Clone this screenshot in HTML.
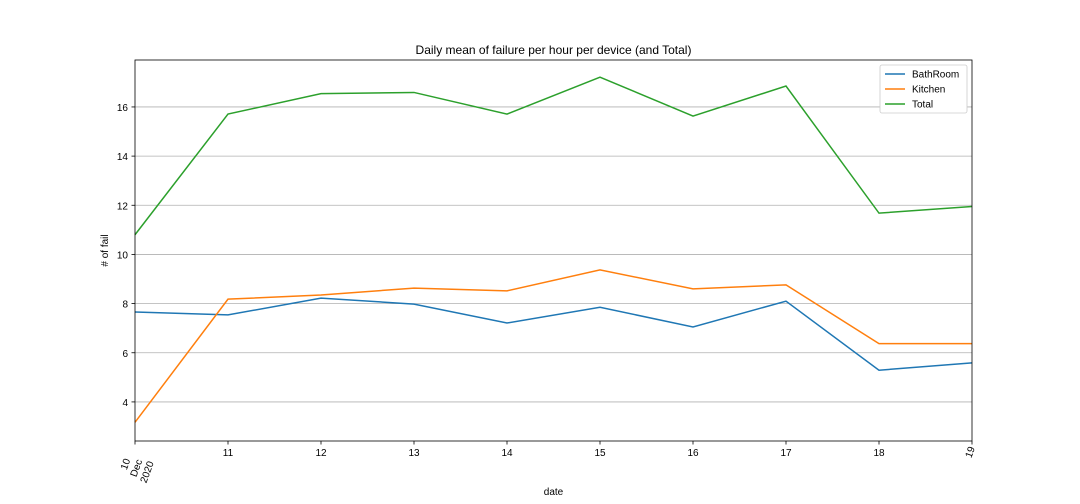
<!DOCTYPE html>
<html><head><meta charset="utf-8"><style>
html,body{margin:0;padding:0;background:#fff;}
svg{display:block;font-family:"Liberation Sans","DejaVu Sans",sans-serif;}
</style></head><body>
<svg id="chart" width="1080" height="504"></svg>
<script>
const days = [10,11,12,13,14,15,16,17,18,19];
const bathroom = [7.66,7.54,8.22,7.98,7.21,7.85,7.05,8.10,5.29,5.59];
const kitchen = [3.17,8.18,8.35,8.63,8.52,9.37,8.60,8.76,6.37,6.37];
const total = [10.80,15.71,16.54,16.59,15.71,17.21,15.63,16.85,11.68,11.95];
const yTicks = [4,6,8,10,12,14,16];
const xTickLabels = ["10\nDec\n2020","11","12","13","14","15","16","17","18","19"];
const rotatedTicks = [true,false,false,false,false,false,false,false,false,true];

const NS="http://www.w3.org/2000/svg";
const svg=document.getElementById('chart');
const L=135,R=972,T=60,B=441;
const yMin=2.41,yMax=17.91;
const xs=d=>L+(d-days[0])/(days[days.length-1]-days[0])*(R-L);
const ys=v=>B-(v-yMin)/(yMax-yMin)*(B-T);
function mk(tag,attrs,parent){const e=document.createElementNS(NS,tag);for(const k in attrs)e.setAttribute(k,attrs[k]);(parent||svg).appendChild(e);return e;}

const grid=mk('g',{});


yTicks.forEach(v=>{
  const y=ys(v);
  mk('line',{x1:L,x2:R,y1:y,y2:y,stroke:'#b0b0b0','stroke-width':0.8},grid);
  mk('line',{x1:L-3.5,x2:L,y1:y,y2:y,stroke:'#000','stroke-width':0.8},grid);
  const t=mk('text',{x:L-7,y:y+4,'text-anchor':'end','font-size':10,fill:'#000'},grid);
  t.textContent=v;
  
  
});

const xg=mk('g',{});


days.forEach((d,i)=>{
  const x=xs(d);
  mk('line',{x1:x,x2:x,y1:B,y2:B+3.5,stroke:'#000','stroke-width':0.8},xg);
  const lines=xTickLabels[i].split("\n");
  let t;
  if(!rotatedTicks[i]){
    t=mk('text',{x:x,y:B+15,'font-size':10,fill:'#000','text-anchor':'middle'},xg);
    t.textContent=lines[0];
  } else if(lines.length>1){
    t=mk('text',{'font-size':10,fill:'#000','text-anchor':'middle',transform:`translate(${x+1},${B+27}) rotate(-70)`},xg);
    lines.forEach((ln,j)=>{const s=mk('tspan',{x:0,y:(j-1)*11.5+3.5},t);s.textContent=ln;});
  } else {
    t=mk('text',{'font-size':10,fill:'#000','text-anchor':'end',transform:`translate(${x+3},${B+7}) rotate(-70)`},xg);
    t.textContent=lines[0];
  }
  
  
});

const series=[[bathroom,'#1f77b4','BathRoom'],[kitchen,'#ff7f0e','Kitchen'],[total,'#2ca02c','Total']];
series.forEach(([vals,col,name])=>{
  const p=mk('polyline',{points:vals.map((v,i)=>xs(days[i])+','+ys(v)).join(' '),fill:'none',stroke:col,'stroke-width':1.5});
  
  
});

const frame=mk('rect',{x:L,y:T,width:R-L,height:B-T,fill:'none',stroke:'#000','stroke-width':0.8});



const title=mk('text',{x:(L+R)/2,y:54,'text-anchor':'middle','font-size':12});
title.textContent='Daily mean of failure per hour per device (and Total)';



const xl=mk('text',{x:(L+R)/2,y:495,'text-anchor':'middle','font-size':10});
xl.textContent='date';



const yl=mk('text',{'text-anchor':'middle','font-size':10,transform:`translate(108,${(T+B)/2}) rotate(-90)`});
yl.textContent='# of fail';



const lg=mk('g',{});


mk('rect',{x:880,y:65,width:87,height:48,rx:2,fill:'#fff',stroke:'#ccc','stroke-width':0.8},lg);
series.forEach(([v,col,name],i)=>{
  const y=74+i*15;
  const e=mk('g',{},lg);
  
  
  mk('line',{x1:885,x2:905,y1:y,y2:y,stroke:col,'stroke-width':1.5},e);
  const t=mk('text',{x:912,y:y+3.5,'font-size':10},e);
  t.textContent=name;
});
</script>
</body></html>
